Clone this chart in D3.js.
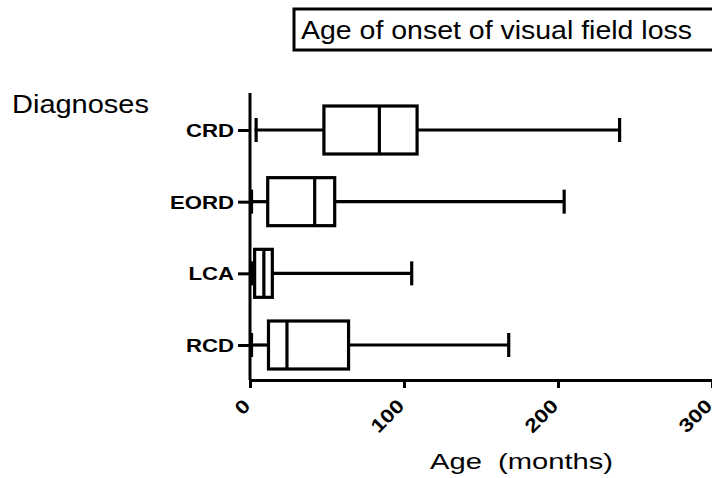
<!DOCTYPE html>
<html>
<head>
<meta charset="utf-8">
<script src="https://cdn.jsdelivr.net/npm/d3@7"></script>
<style>
  html, body { margin: 0; padding: 0; background: #fff; }
  svg { display: block; font-family: "Liberation Sans", Arial, sans-serif; }
</style>
</head>
<body>
<svg id="chart" width="712" height="478"></svg>
<script>
const categories = ["CRD", "EORD", "LCA", "RCD"];
const whiskerMin = [3, 0, 0, 0];
const q1 = [48, 11.5, 3, 12];
const median = [84, 42, 9, 24];
const q3 = [108.5, 55, 14.5, 64];
const whiskerMax = [240, 204, 105, 168];
const xTicks = [0, 100, 200, 300];

const svg = d3.select("#chart");
const x = d3.scaleLinear().domain([0, 300]).range([250, 712]);
const y = d3.scalePoint().domain(categories).range([130, 345]);
const boxH = 48, capH = 24, lw = 3.2;
const sx = 1.2;

// Title box
svg.append("rect").attr("x", 294).attr("y", 9).attr("width", 430).attr("height", 41)
  .attr("fill", "#fff").attr("stroke", "#000").attr("stroke-width", 3);
svg.append("text").attr("x", 301).attr("y", 39).attr("font-size", 26)
  .attr("textLength", 391).attr("lengthAdjust", "spacingAndGlyphs")
  .text("Age of onset of visual field loss");

svg.append("text").attr("x", 12).attr("y", 113).attr("font-size", 25)
  .attr("textLength", 137).attr("lengthAdjust", "spacingAndGlyphs").text("Diagnoses");

// X axis
const xAxis = d3.axisBottom(x).tickValues(xTicks).tickSize(8).tickSizeOuter(0).tickFormat(d3.format("d"));
const gx = svg.append("g").attr("transform", "translate(0,380)").call(xAxis);
gx.select(".domain").attr("stroke-width", 3);
gx.selectAll(".tick line").attr("stroke-width", 3);
gx.selectAll(".tick text")
  .attr("font-size", 19).attr("font-weight", "bold").attr("fill", "#000")
  .attr("text-anchor", "end").attr("dy", null).attr("y", null).attr("x", null)
  .attr("transform", `translate(1,27) rotate(-45) scale(${sx},1)`);

// Y axis
const yAxis = d3.axisLeft(y).tickSize(12).tickSizeOuter(0);
const gy = svg.append("g").attr("transform", "translate(250,0)").call(yAxis);
gy.select(".domain").attr("d", "M0,93V380").attr("stroke-width", 3);
gy.selectAll(".tick line").attr("stroke-width", 3);
gy.selectAll(".tick text").attr("font-size", 18.5).attr("font-weight", "bold").attr("fill", "#000")
  .attr("x", -16 / sx).attr("dy", "0.36em").attr("transform", `scale(${sx},1)`);

// Boxes
const data = categories.map((c, i) => ({c, lo: whiskerMin[i], q1: q1[i], med: median[i], q3: q3[i], hi: whiskerMax[i]}));
const g = svg.append("g").attr("stroke", "#000").attr("stroke-width", lw).attr("fill", "none");
data.forEach(d => {
  const cy = y(d.c);
  g.append("line").attr("x1", x(d.lo)).attr("x2", x(d.q1)).attr("y1", cy).attr("y2", cy);
  g.append("line").attr("x1", x(d.q3)).attr("x2", x(d.hi)).attr("y1", cy).attr("y2", cy);
  g.append("line").attr("x1", x(d.lo) + 1.5).attr("x2", x(d.lo) + 1.5).attr("y1", cy - capH/2).attr("y2", cy + capH/2);
  g.append("line").attr("x1", x(d.hi)).attr("x2", x(d.hi)).attr("y1", cy - capH/2).attr("y2", cy + capH/2);
  g.append("rect").attr("x", x(d.q1)).attr("y", cy - boxH/2).attr("width", x(d.q3) - x(d.q1)).attr("height", boxH).attr("fill", "#fff");
  g.append("line").attr("x1", x(d.med)).attr("x2", x(d.med)).attr("y1", cy - boxH/2).attr("y2", cy + boxH/2);
});

svg.append("text").attr("x", 430).attr("y", 469).attr("font-size", 22)
  .attr("textLength", 183).attr("lengthAdjust", "spacingAndGlyphs")
  .style("white-space", "pre").text("Age  (months)");
</script>
</body>
</html>
